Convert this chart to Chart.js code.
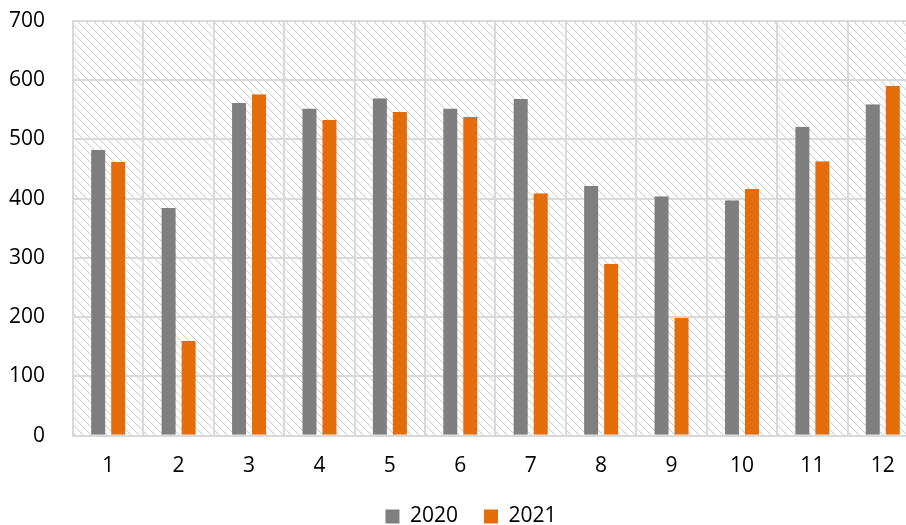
<!DOCTYPE html>
<html>
<head>
<meta charset="utf-8">
<script src="https://cdn.jsdelivr.net/npm/chart.js@4/dist/chart.umd.min.js"></script>
<style>
  html, body { margin: 0; padding: 0; background: #fff; overflow: hidden; width: 906px; height: 525px; }
  canvas { display: block; }
</style>
</head>
<body>
<canvas id="c" width="918" height="525"></canvas>
<script>
const categories = ['1', '2', '3', '4', '5', '6', '7', '8', '9', '10', '11', '12'];
const series2020 = [482, 384, 561, 552, 569, 552, 568, 421, 404, 397, 521, 559];
const series2021 = [462, 160, 576, 533, 546, 538, 409, 290, 199, 416, 463, 590];
const seriesLabels = ['2020', '2021'];
const yTicks = [0, 100, 200, 300, 400, 500, 600, 700];

function makeHatch(ctx) {
  const t = document.createElement('canvas');
  t.width = 8; t.height = 8;
  const g = t.getContext('2d');
  g.fillStyle = '#ffffff';
  g.fillRect(0, 0, 8, 8);
  for (let y = 0; y < 8; y++) {
    g.fillStyle = '#d3d3d3';
    g.fillRect(y % 8, y, 1, 1);
    g.fillStyle = '#efefef';
    g.fillRect((y + 1) % 8, y, 1, 1);
  }
  return ctx.createPattern(t, 'repeat');
}

const hatchPlugin = {
  id: 'hatch',
  afterLayout(chart) {
    // legend in the reference is centred slightly to the right of the canvas centre
    if (chart.legend) { chart.legend.left += 24; }
  },
  beforeDraw(chart) {
    const { ctx, chartArea } = chart;
    ctx.save();
    ctx.fillStyle = makeHatch(ctx);
    ctx.fillRect(chartArea.left, chartArea.top, chartArea.right - chartArea.left, chartArea.bottom - chartArea.top);
    ctx.restore();
  }
};

const FONT = { family: "'Open Sans', 'Noto Sans', sans-serif", size: 21 };

new Chart(document.getElementById('c'), {
  type: 'bar',
  data: {
    labels: categories,
    datasets: [
      {
        label: seriesLabels[0],
        data: series2020,
        backgroundColor: '#7f7f7f',
        borderColor: 'rgba(0,0,0,0)',
        borderWidth: { left: 3, right: 3, top: 0, bottom: 0 },
        borderSkipped: 'start'
      },
      {
        label: seriesLabels[1],
        data: series2021,
        backgroundColor: '#e46c0a',
        borderColor: 'rgba(0,0,0,0)',
        borderWidth: { left: 3, right: 3, top: 0, bottom: 0 },
        borderSkipped: 'start'
      }
    ]
  },
  options: {
    responsive: false,
    animation: false,
    devicePixelRatio: 1,
    layout: { padding: { top: 1, left: 0, right: 0, bottom: -12 } },
    datasets: { bar: { categoryPercentage: 0.568, barPercentage: 1.0 } },
    plugins: {
      legend: {
        position: 'bottom',
        labels: {
          boxWidth: 14,
          boxHeight: 14,
          color: '#000',
          font: FONT,
          padding: 26,
          generateLabels(chart) {
            return chart.data.datasets.map((ds, i) => ({
              text: ds.label,
              fillStyle: ds.backgroundColor,
              strokeStyle: ds.backgroundColor,
              lineWidth: 0,
              hidden: false,
              datasetIndex: i,
              fontColor: '#000'
            }));
          }
        }
      },
      tooltip: { enabled: false }
    },
    scales: {
      x: {
        grid: { color: '#d9d9d9', lineWidth: 2, drawTicks: false, offset: true },
        border: { color: '#d9d9d9', width: 2 },
        ticks: { color: '#000', font: FONT, padding: 18, maxRotation: 0 },
        afterFit(scale) { scale.height = scale.height - 17; }
      },
      y: {
        min: 0,
        max: 700,
        afterFit(scale) { scale.width = 73; },
        afterBuildTicks(scale) { scale.ticks = yTicks.map(v => ({ value: v })); },
        grid: { color: '#d9d9d9', lineWidth: 2, drawTicks: true, tickLength: 20, tickColor: 'rgba(0,0,0,0)' },
        border: { color: '#d9d9d9', width: 2 },
        ticks: { color: '#000', font: FONT, padding: 8 }
      }
    }
  },
  plugins: [hatchPlugin]
});
</script>
</body>
</html>
